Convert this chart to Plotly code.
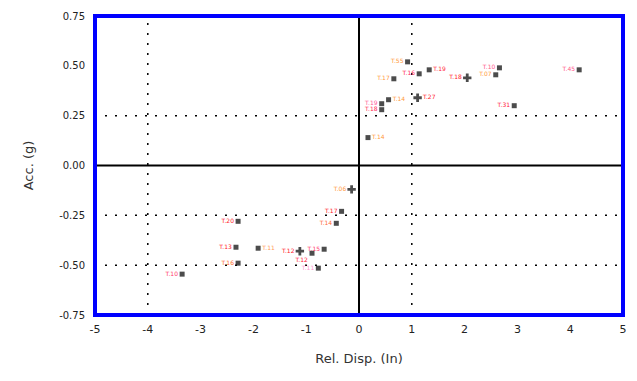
import plotly.graph_objects as go

# Relative displacement (in) and acceleration (g) for each test run
disp = [0.92, 1.14, 1.33, 2.05, 2.66, 2.59, 4.17, 0.66, 0.56, 0.43, 0.43, 1.11, 2.94, 0.17,
        -0.14, -0.33, -0.43, -2.29, -2.33, -2.29, -3.35, -1.91, -1.12, -0.89, -0.66, -0.77]
acc = [0.52, 0.46, 0.48, 0.44, 0.49, 0.455, 0.48, 0.435, 0.33, 0.31, 0.28, 0.34, 0.30, 0.14,
       -0.12, -0.23, -0.29, -0.28, -0.41, -0.49, -0.545, -0.415, -0.43, -0.44, -0.42, -0.515]
labels = ["T.55", "T.16", "T.19", "T.18", "T.10", "T.07", "T.45", "T.17", "T.14", "T.19",
          "T.18", "T.27", "T.31", "T.14", "T.06", "T.17", "T.14", "T.20", "T.13", "T.16",
          "T.10", "T.11", "T.12", "T.12", "T.15", "T.11"]
symbols = ["square", "square", "square", "cross", "square", "square", "square", "square",
           "square", "square", "square", "cross", "square", "square", "cross", "square",
           "square", "square", "square", "square", "square", "square", "cross", "square",
           "square", "square"]
label_side = ["middle left", "middle left", "middle right", "middle left", "middle left",
              "middle left", "middle left", "middle left", "middle right", "middle left",
              "middle left", "middle right", "middle left", "middle right", "middle left",
              "middle left", "middle left", "middle left", "middle left", "middle left",
              "middle left", "middle right", "middle left", "bottom left", "middle left",
              "middle left"]
label_colors = ["#ff9a3c", "#ff2a55", "#ff2a40", "#ff1a2a", "#ff5a8a", "#ff9a3c", "#ff5a8a",
                "#ff9a3c", "#ff9a3c", "#ff5a9a", "#ff2a55", "#ff1a2a", "#ff1a3a", "#ff9a3c",
                "#ff9a3c", "#ff1a2a", "#ff6a3a", "#ff1a2a", "#ff1a2a", "#ff6a2a", "#ff3a6a",
                "#ff9a5a", "#ff1a2a", "#ff1a3a", "#ff3a6a", "#ff9ad0"]

x_ticks = [-5, -4, -3, -2, -1, 0, 1, 2, 3, 4, 5]
y_ticks = [-0.75, -0.5, -0.25, 0.0, 0.25, 0.5, 0.75]

# Dotted reference lines
v_dotted = [-4, 1]
h_dotted = [0.25, -0.25, -0.5]

fig = go.Figure()

fig.add_trace(go.Scatter(
    x=disp, y=acc, mode="markers+text",
    text=labels, textposition=label_side,
    textfont=dict(size=6, color=label_colors, family="DejaVu Sans"),
    marker=dict(symbol=symbols, size=[5 if s == "square" else 7 for s in symbols],
                color="black", line=dict(width=0)),
    showlegend=False, hoverinfo="skip",
))

shapes = []
for xv in v_dotted:
    shapes.append(dict(type="line", xref="x", yref="y", x0=xv, x1=xv, y0=-0.75, y1=0.75,
                       line=dict(color="black", width=1.5, dash="2px,8px"), layer="below"))
for yv in h_dotted:
    shapes.append(dict(type="line", xref="x", yref="y", x0=-5, x1=5, y0=yv, y1=yv,
                       line=dict(color="black", width=1.5, dash="2px,8px"), layer="below"))
# Solid axes through the origin
shapes.append(dict(type="line", xref="x", yref="y", x0=0, x1=0, y0=-0.75, y1=0.75,
                   line=dict(color="black", width=2)))
shapes.append(dict(type="line", xref="x", yref="y", x0=-5, x1=5, y0=0, y1=0,
                   line=dict(color="black", width=2)))
# Blue frame
shapes.append(dict(type="rect", xref="paper", yref="paper", x0=0, x1=1, y0=0, y1=1,
                   line=dict(color="#0000ff", width=4)))

fig.update_layout(
    width=637, height=381,
    margin=dict(l=95, r=10, t=14, b=66),
    paper_bgcolor="white", plot_bgcolor="white",
    font=dict(family="DejaVu Sans", color="#333333"),
    shapes=shapes,
    xaxis=dict(range=[-5, 5], tickvals=x_ticks, ticktext=[str(v) for v in x_ticks],
               showgrid=False, zeroline=False, showline=False, ticks="",
               ticklabelstandoff=6,
               tickfont=dict(size=11, color="#222222"),
               title=dict(text="Rel. Disp. (In)", font=dict(size=13, color="#333333"), standoff=18)),
    yaxis=dict(range=[-0.75, 0.75], tickvals=y_ticks, ticktext=[f"{v:.2f}" for v in y_ticks],
               showgrid=False, zeroline=False, showline=False, ticks="",
               ticklabelstandoff=9,
               tickfont=dict(size=10, color="#222222"),
               title=dict(text="Acc. (g)", font=dict(size=13, color="#333333"), standoff=22)),
)

fig.write_html("out.html")
